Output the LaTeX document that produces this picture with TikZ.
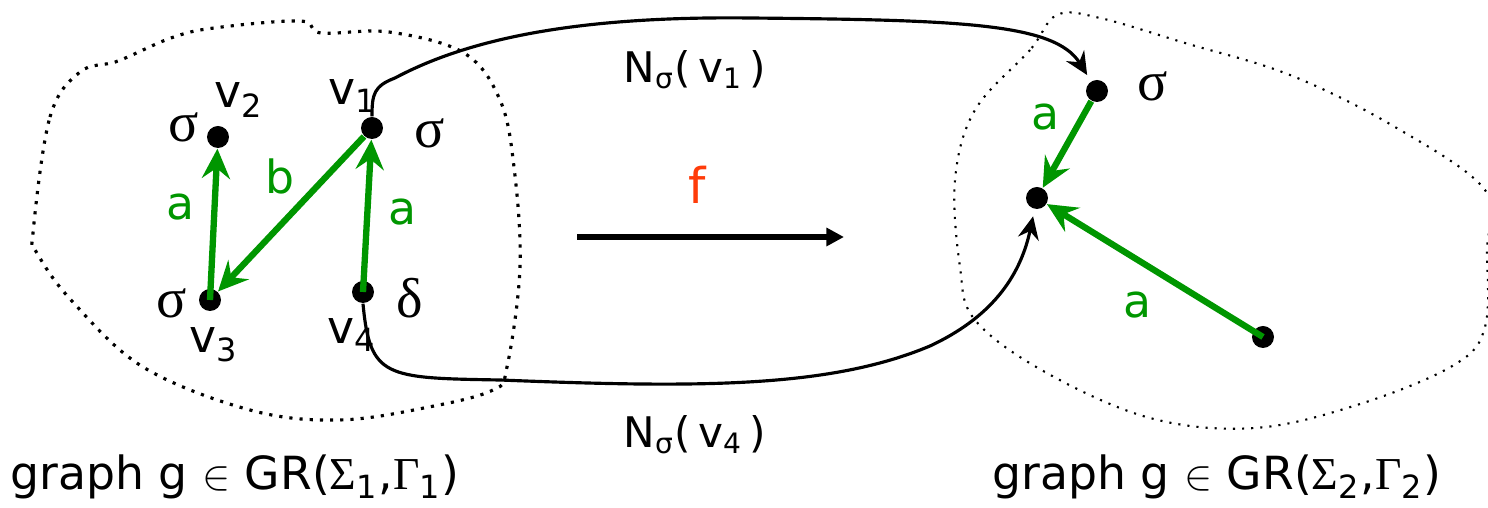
\documentclass[tikz,border=0pt]{standalone}
\usepackage{fontspec}
\setmainfont{DejaVu Sans}
\newfontfamily\grfont{Liberation Serif}
\usetikzlibrary{arrows.meta}

\definecolor{edgegreen}{RGB}{0,150,0}
\definecolor{mapred}{RGB}{255,60,10}

\begin{document}
\begin{tikzpicture}[
    vertex/.style={circle, fill=black, inner sep=0pt, minimum size=0.22cm},
    edge/.style={edgegreen, line width=1.8pt, -{Stealth[length=8.5pt,width=8pt,inset=3pt]}},
    elabel/.style={edgegreen, font=\fontsize{13}{15}\selectfont},
    vname/.style={font=\fontsize{13}{15}\selectfont},
    sym/.style={font=\fontsize{16}{18}\grfont},
    blob/.style={dotted, line width=0.9pt},
    link/.style={line width=0.9pt, -{Stealth[length=6.5pt,width=6pt,inset=2.2pt]}, shorten >=2pt}
]
    \useasboundingbox (0,0) rectangle (14.88,5.08);

    % the two graphs
    \draw[blob] plot[smooth cycle, tension=0.6] coordinates {(0.33,2.75) (0.50,3.91) (0.80,4.36) (1.18,4.47) (1.71,4.70) (2.14,4.80) (3.00,4.87) (3.21,4.75) (3.89,4.76) (4.64,4.55) (5.00,4.08) (5.14,3.41) (5.20,2.41) (5.07,1.41) (4.93,1.18) (4.29,1.01) (3.39,0.88) (2.50,0.98) (1.43,1.41) (0.71,2.08) (0.37,2.55)};
    \draw[blob, line width=0.6pt] plot[smooth cycle, tension=0.6] coordinates {(10.57,4.93) (10.30,4.58) (9.75,3.98) (9.55,3.28) (9.60,2.41) (9.75,1.88) (10.45,1.36) (11.50,0.90) (12.55,0.80) (13.60,1.04) (14.54,1.43) (14.85,1.81) (14.87,2.58) (14.85,3.18) (13.95,3.81) (12.90,4.33) (11.85,4.65) (11.00,4.90)};

    % left graph
    \node[vertex] (v1) at (3.72,3.80) {};
    \node[vertex] (v2) at (2.18,3.71) {};
    \node[vertex] (v3) at (2.10,2.08) {};
    \node[vertex] (v4) at (3.63,2.16) {};
    \node[vname] (n1) at (3.53,4.12) {v\textsubscript{1}};
    \node[vname] (n2) at (2.39,4.08) {v\textsubscript{2}};
    \node[vname] (n3) at (2.14,1.63) {v\textsubscript{3}};
    \node[vname] (n4) at (3.52,1.73) {v\textsubscript{4}};
    \node[sym] (s1) at (4.30,3.75) {σ};
    \node[sym] (s2) at (1.84,3.81) {σ};
    \node[sym] (s3) at (1.72,2.05) {σ};
    \node[sym] (d4) at (4.10,2.10) {δ};

    \draw[edge] (v3.center) -- (v2);
    \draw[edge] (v1) -- (v3);
    \draw[edge] (v4.center) -- (v1);
    \node[elabel] (a1) at (1.80,3.01) {a};
    \node[elabel] (b1) at (2.80,3.32) {b};
    \node[elabel] (a2) at (4.02,2.96) {a};

    % right graph
    \node[vertex] (r1) at (10.97,4.17) {};
    \node[vertex] (r2) at (10.37,3.10) {};
    \node[vertex] (r3) at (12.63,1.71) {};
    \node[sym] (t1) at (11.53,4.22) {σ};
    \draw[edge] (r1) -- (r2);
    \draw[edge] (r3.center) -- (r2);
    \node[elabel] (a3) at (10.45,3.91) {a};
    \node[elabel] (a4) at (11.37,2.03) {a};

    % the map
    \coordinate (fl) at (5.77,2.71);
    \coordinate (fr) at (8.44,2.71);
    \draw[line width=1.5pt, -{Triangle[length=5pt,width=5pt]}] (fl) -- (fr);
    \node[mapred, font=\fontsize{14}{16}\selectfont] (f) at (6.97,3.23) {f};

    \draw[link] (v1.north) .. controls (3.72,4.14) and (3.74,4.22) .. (3.95,4.30)
        .. controls (4.70,4.70) and (5.80,4.92) .. (7.50,4.90)
        .. controls (9.60,4.88) and (10.55,4.85) .. (r1);
    \draw[link] (v4.south) .. controls (3.70,1.30) and (3.85,1.30) .. (5.00,1.28)
        .. controls (7.00,1.20) and (8.30,1.20) .. (9.30,1.62)
        .. controls (9.90,1.90) and (10.20,2.30) .. (r2);
    \node[font=\fontsize{12}{14}\selectfont] (m1) at (6.95,4.38) {N\textsubscript{σ}(\,v\textsubscript{1}\,)};
    \node[font=\fontsize{12}{14}\selectfont] (m4) at (6.95,0.73) {N\textsubscript{σ}(\,v\textsubscript{4}\,)};

    % captions
    \node[font=\fontsize{13}{16}\selectfont] (g1) at (2.35,0.31) {graph g $\in$ GR({\grfont Σ}\textsubscript{1},{\grfont Γ}\textsubscript{1})};
    \node[font=\fontsize{13}{16}\selectfont] (g2) at (12.17,0.31) {graph g $\in$ GR({\grfont Σ}\textsubscript{2},{\grfont Γ}\textsubscript{2})};
\end{tikzpicture}
\end{document}
